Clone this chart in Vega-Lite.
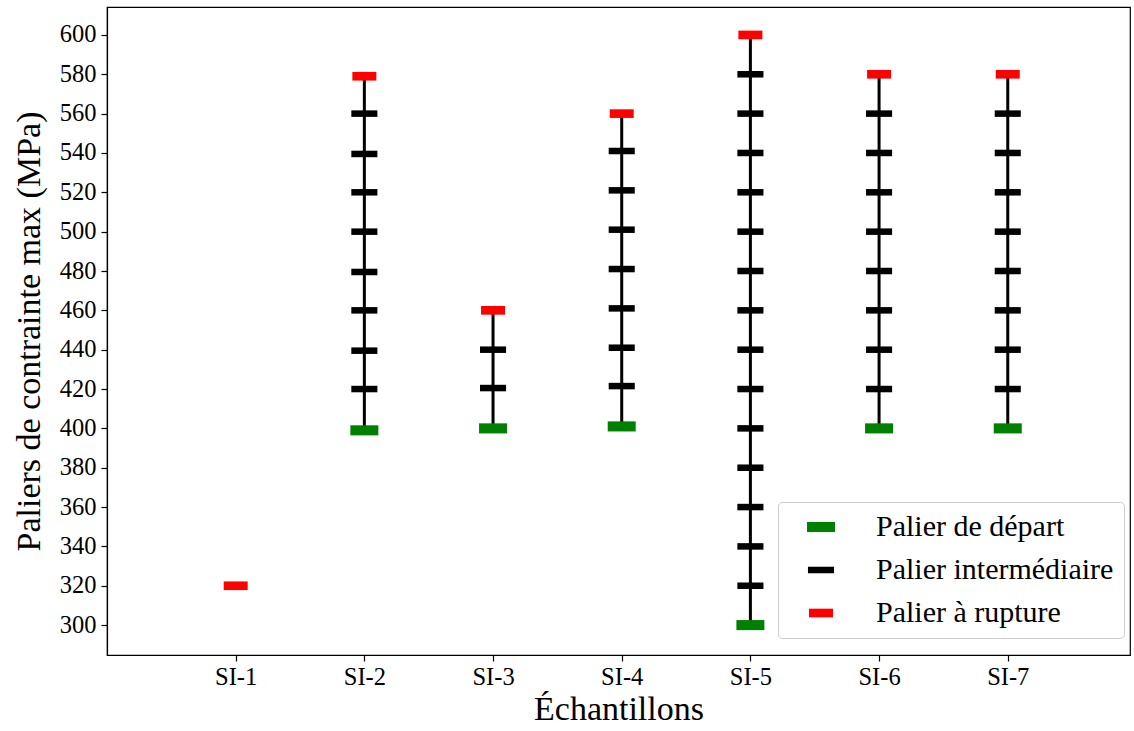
{
  "$schema": "https://vega.github.io/schema/vega-lite/v6.json",
  "autosize": "none",
  "padding": {"left": 107, "top": 7, "right": 4, "bottom": 76},
  "width": 1023,
  "height": 648,
  "background": "white",
  "config": {
    "font": "Liberation Serif",
    "view": {"stroke": "black", "strokeWidth": 1.2},
    "axis": {"domainColor": "black", "tickColor": "black", "labelColor": "black", "titleColor": "black", "grid": false, "labelFont": "Liberation Serif", "titleFont": "Liberation Serif", "titleFontWeight": "normal", "labelFontSize": 24.5, "titleFontSize": 34, "tickSize": 6, "tickWidth": 1.2, "domainWidth": 1.2},
    "legend": {"labelFont": "Liberation Serif", "labelFontSize": 30, "labelLimit": 0, "labelColor": "black"}
  },
  "data": {
    "values": [
      {"n": 1, "v": 320, "type": "Palier à rupture"},
      {"n": 2, "v": 399, "type": "Palier de départ"},
      {"n": 2, "v": 420, "type": "Palier intermédiaire"},
      {"n": 2, "v": 439.5, "type": "Palier intermédiaire"},
      {"n": 2, "v": 460, "type": "Palier intermédiaire"},
      {"n": 2, "v": 479.5, "type": "Palier intermédiaire"},
      {"n": 2, "v": 500, "type": "Palier intermédiaire"},
      {"n": 2, "v": 520, "type": "Palier intermédiaire"},
      {"n": 2, "v": 539.5, "type": "Palier intermédiaire"},
      {"n": 2, "v": 560, "type": "Palier intermédiaire"},
      {"n": 2, "v": 579, "type": "Palier à rupture"},
      {"n": 3, "v": 400, "type": "Palier de départ"},
      {"n": 3, "v": 420.5, "type": "Palier intermédiaire"},
      {"n": 3, "v": 440, "type": "Palier intermédiaire"},
      {"n": 3, "v": 460, "type": "Palier à rupture"},
      {"n": 4, "v": 401, "type": "Palier de départ"},
      {"n": 4, "v": 421.5, "type": "Palier intermédiaire"},
      {"n": 4, "v": 441, "type": "Palier intermédiaire"},
      {"n": 4, "v": 461, "type": "Palier intermédiaire"},
      {"n": 4, "v": 481, "type": "Palier intermédiaire"},
      {"n": 4, "v": 501, "type": "Palier intermédiaire"},
      {"n": 4, "v": 521, "type": "Palier intermédiaire"},
      {"n": 4, "v": 541, "type": "Palier intermédiaire"},
      {"n": 4, "v": 560, "type": "Palier à rupture"},
      {"n": 5, "v": 300, "type": "Palier de départ"},
      {"n": 5, "v": 320, "type": "Palier intermédiaire"},
      {"n": 5, "v": 340, "type": "Palier intermédiaire"},
      {"n": 5, "v": 360, "type": "Palier intermédiaire"},
      {"n": 5, "v": 380, "type": "Palier intermédiaire"},
      {"n": 5, "v": 400, "type": "Palier intermédiaire"},
      {"n": 5, "v": 420, "type": "Palier intermédiaire"},
      {"n": 5, "v": 440, "type": "Palier intermédiaire"},
      {"n": 5, "v": 460, "type": "Palier intermédiaire"},
      {"n": 5, "v": 480, "type": "Palier intermédiaire"},
      {"n": 5, "v": 500, "type": "Palier intermédiaire"},
      {"n": 5, "v": 520, "type": "Palier intermédiaire"},
      {"n": 5, "v": 540, "type": "Palier intermédiaire"},
      {"n": 5, "v": 560, "type": "Palier intermédiaire"},
      {"n": 5, "v": 580, "type": "Palier intermédiaire"},
      {"n": 5, "v": 600, "type": "Palier à rupture"},
      {"n": 6, "v": 400, "type": "Palier de départ"},
      {"n": 6, "v": 420, "type": "Palier intermédiaire"},
      {"n": 6, "v": 440, "type": "Palier intermédiaire"},
      {"n": 6, "v": 460, "type": "Palier intermédiaire"},
      {"n": 6, "v": 480, "type": "Palier intermédiaire"},
      {"n": 6, "v": 500, "type": "Palier intermédiaire"},
      {"n": 6, "v": 520, "type": "Palier intermédiaire"},
      {"n": 6, "v": 540, "type": "Palier intermédiaire"},
      {"n": 6, "v": 560, "type": "Palier intermédiaire"},
      {"n": 6, "v": 580, "type": "Palier à rupture"},
      {"n": 7, "v": 400, "type": "Palier de départ"},
      {"n": 7, "v": 420, "type": "Palier intermédiaire"},
      {"n": 7, "v": 440, "type": "Palier intermédiaire"},
      {"n": 7, "v": 460, "type": "Palier intermédiaire"},
      {"n": 7, "v": 480, "type": "Palier intermédiaire"},
      {"n": 7, "v": 500, "type": "Palier intermédiaire"},
      {"n": 7, "v": 520, "type": "Palier intermédiaire"},
      {"n": 7, "v": 540, "type": "Palier intermédiaire"},
      {"n": 7, "v": 560, "type": "Palier intermédiaire"},
      {"n": 7, "v": 580, "type": "Palier à rupture"}
    ]
  },
  "encoding": {
    "x": {
      "field": "n", "type": "quantitative",
      "scale": {"domain": [0, 7.95], "nice": false, "zero": false},
      "axis": {"values": [1, 2, 3, 4, 5, 6, 7], "labelExpr": "'SI-' + datum.value", "title": "Échantillons", "labelPadding": 4, "titlePadding": 4}
    }
  },
  "layer": [
    {
      "transform": [{"aggregate": [{"op": "min", "field": "v", "as": "lo"}, {"op": "max", "field": "v", "as": "hi"}], "groupby": ["n"]}],
      "mark": {"type": "rule", "color": "black", "strokeWidth": 3},
      "encoding": {
        "y": {"field": "lo", "type": "quantitative", "scale": {"domain": [284.8, 614.2], "nice": false, "zero": false},
          "axis": {"values": [300, 320, 340, 360, 380, 400, 420, 440, 460, 480, 500, 520, 540, 560, 580, 600], "title": "Paliers de contrainte max (MPa)", "labelPadding": 5, "titlePadding": 13}},
        "y2": {"field": "hi"}
      }
    },
    {
      "mark": {"type": "point", "filled": true, "opacity": 1, "strokeWidth": 0},
      "encoding": {
        "y": {"field": "v", "type": "quantitative"},
        "color": {"field": "type", "type": "nominal",
          "scale": {"domain": ["Palier de départ", "Palier intermédiaire", "Palier à rupture"], "range": ["#008000", "#000000", "#ff0000"]},
          "legend": {"title": null, "orient": "none", "legendX": 671, "legendY": 495, "strokeColor": "#cccccc", "fillColor": "white", "cornerRadius": 4, "padding": 10, "rowPadding": 13, "labelOffset": 40, "symbolOffset": 18, "symbolStrokeWidth": 0}},
        "shape": {"field": "type", "type": "nominal",
          "scale": {"domain": ["Palier de départ", "Palier intermédiaire", "Palier à rupture"], "range": ["M-1,-0.36L1,-0.36L1,0.36L-1,0.36Z", "M-1,-0.25L1,-0.25L1,0.25L-1,0.25Z", "M-1,-0.36L1,-0.36L1,0.36L-1,0.36Z"]}},
        "size": {"field": "type", "type": "nominal",
          "scale": {"domain": ["Palier de départ", "Palier intermédiaire", "Palier à rupture"], "range": [784, 576, 784]}}
      }
    }
  ]
}
